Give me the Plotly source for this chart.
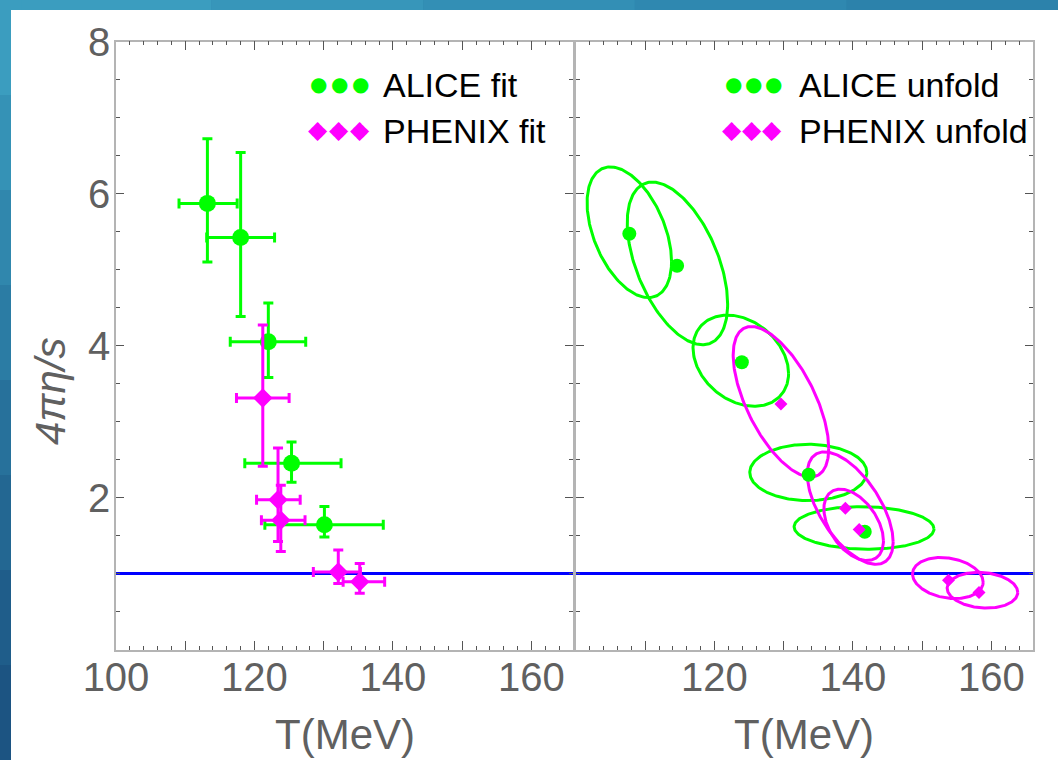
import numpy as np
import plotly.graph_objects as go

# ---------------- data ----------------
# Left panel: fits with asymmetric error bars
alice_fit_T = [113.2, 118.0, 122.0, 125.35, 130.1]
alice_fit_eta = [5.87, 5.42, 4.05, 2.45, 1.64]
alice_fit_T_minus = [4.1, 4.9, 5.5, 6.75, 8.6]
alice_fit_T_plus = [4.3, 4.9, 5.4, 7.15, 8.5]
alice_fit_eta_plus = [0.85, 1.12, 0.51, 0.28, 0.24]
alice_fit_eta_minus = [0.77, 1.04, 0.47, 0.25, 0.16]

phenix_fit_T = [121.2, 123.4, 123.8, 132.1, 135.2]
phenix_fit_eta = [3.31, 1.97, 1.70, 1.02, 0.89]
phenix_fit_T_minus = [3.8, 3.1, 2.8, 3.6, 2.4]
phenix_fit_T_plus = [3.8, 3.2, 3.5, 3.2, 3.6]
phenix_fit_eta_plus = [0.96, 0.68, 0.46, 0.29, 0.24]
phenix_fit_eta_minus = [0.90, 0.55, 0.41, 0.15, 0.15]

# Right panel: unfolded points with correlated-error ellipses
alice_unf_T = [107.7, 114.6, 123.95, 133.6, 141.7]
alice_unf_eta = [5.47, 5.05, 3.78, 2.30, 1.55]
alice_ell_cT = [107.7, 114.65, 123.8, 133.55, 141.6]
alice_ell_ceta = [5.49, 5.08, 3.80, 2.33, 1.60]
alice_ell_sT = [6.1, 7.25, 6.9, 8.45, 10.1]
alice_ell_seta = [0.86, 1.07, 0.60, 0.37, 0.28]
alice_ell_rho = [-0.45, -0.5, -0.28, 0.0, -0.05]

phenix_unf_T = [129.6, 138.9, 140.9, 153.8, 158.2]
phenix_unf_eta = [3.23, 1.86, 1.58, 0.91, 0.75]
phenix_ell_cT = [129.6, 139.6, 140.1, 153.7, 158.7]
phenix_ell_ceta = [3.26, 1.86, 1.64, 0.94, 0.78]
phenix_ell_sT = [6.9, 6.2, 4.3, 5.1, 5.1]
phenix_ell_seta = [0.99, 0.74, 0.47, 0.27, 0.235]
phenix_ell_rho = [-0.62, -0.6, -0.45, -0.2, -0.12]

kss_bound = 1.0

x_tick_vals = [100, 110, 120, 130, 140, 150, 160]
x_tick_text_left = ["100", "", "120", "", "140", "", "160"]
x_tick_text_right = ["", "", "120", "", "140", "", "160"]
y_tick_vals = [2, 4, 6, 8]
y_tick_text = ["2", "4", "6", "8"]

# ---------------- style ----------------
W, H = 1058, 760
GREEN = "#00ff00"
MAGENTA = "#ff00ff"
BLUE = "#0000ff"
GRAY_TXT = "#606060"
FONT = "Liberation Sans"

def fx(p):
    return p / W

def fy(p):
    return 1 - p / H

X1 = [fx(116), fx(573)]
X2 = [fx(576), fx(1033)]
YD = [fy(649.5), fy(41.5)]

fig = go.Figure()

# KSS bound line on both panels
for xa, ya in (("x", "y"), ("x2", "y2")):
    fig.add_trace(go.Scatter(x=[100, 166], y=[kss_bound, kss_bound], mode="lines",
                             line=dict(color=BLUE, width=3), xaxis=xa, yaxis=ya,
                             showlegend=False, hoverinfo="skip"))

# Left panel
fig.add_trace(go.Scatter(
    x=alice_fit_T, y=alice_fit_eta, mode="markers", name="ALICE fit",
    marker=dict(color=GREEN, size=17, symbol="circle"),
    error_x=dict(type="data", symmetric=False, array=alice_fit_T_plus,
                 arrayminus=alice_fit_T_minus, color=GREEN, thickness=3, width=5),
    error_y=dict(type="data", symmetric=False, array=alice_fit_eta_plus,
                 arrayminus=alice_fit_eta_minus, color=GREEN, thickness=3, width=5),
    xaxis="x", yaxis="y", showlegend=False))
fig.add_trace(go.Scatter(
    x=phenix_fit_T, y=phenix_fit_eta, mode="markers", name="PHENIX fit",
    marker=dict(color=MAGENTA, size=15, symbol="diamond"),
    error_x=dict(type="data", symmetric=False, array=phenix_fit_T_plus,
                 arrayminus=phenix_fit_T_minus, color=MAGENTA, thickness=3, width=5),
    error_y=dict(type="data", symmetric=False, array=phenix_fit_eta_plus,
                 arrayminus=phenix_fit_eta_minus, color=MAGENTA, thickness=3, width=5),
    xaxis="x", yaxis="y", showlegend=False))

# Right panel ellipses
t = np.linspace(0, 2 * np.pi, 241)

def ellipse(cx, cy, sx, sy, rho):
    ex = cx + sx * np.cos(t)
    ey = cy + sy * (rho * np.cos(t) + np.sqrt(1 - rho ** 2) * np.sin(t))
    return ex, ey

for i in range(len(alice_ell_cT)):
    ex, ey = ellipse(alice_ell_cT[i], alice_ell_ceta[i], alice_ell_sT[i],
                     alice_ell_seta[i], alice_ell_rho[i])
    fig.add_trace(go.Scatter(x=ex, y=ey, mode="lines", line=dict(color=GREEN, width=3),
                             xaxis="x2", yaxis="y2", showlegend=False, hoverinfo="skip"))
for i in range(len(phenix_ell_cT)):
    ex, ey = ellipse(phenix_ell_cT[i], phenix_ell_ceta[i], phenix_ell_sT[i],
                     phenix_ell_seta[i], phenix_ell_rho[i])
    fig.add_trace(go.Scatter(x=ex, y=ey, mode="lines", line=dict(color=MAGENTA, width=3),
                             xaxis="x2", yaxis="y2", showlegend=False, hoverinfo="skip"))

fig.add_trace(go.Scatter(x=alice_unf_T, y=alice_unf_eta, mode="markers", name="ALICE unfold",
                         marker=dict(color=GREEN, size=14, symbol="circle"),
                         xaxis="x2", yaxis="y2", showlegend=False))
fig.add_trace(go.Scatter(x=phenix_unf_T, y=phenix_unf_eta, mode="markers", name="PHENIX unfold",
                         marker=dict(color=MAGENTA, size=10, symbol="diamond"),
                         xaxis="x2", yaxis="y2", showlegend=False))

# ---------------- axes ----------------
def xaxis_cfg(domain, ticktext, anchor):
    return dict(domain=domain, range=[100, 166], anchor=anchor, automargin=False,
                tickmode="array", tickvals=x_tick_vals, ticktext=ticktext,
                ticks="inside", ticklen=9, tickwidth=1.2, tickcolor="#555555",
                ticklabelstandoff=-8,
                minor=dict(dtick=2, tick0=100, ticks="inside", ticklen=4,
                           tickwidth=1, tickcolor="#555555"),
                showline=True, linecolor="#b4b4b4", linewidth=1.5, mirror="ticks",
                showgrid=False, zeroline=False,
                tickfont=dict(family=FONT, size=40, color=GRAY_TXT))

def yaxis_cfg(anchor, labels):
    return dict(domain=YD, range=[0, 8], anchor=anchor, automargin=False,
                tickmode="array", tickvals=y_tick_vals, ticktext=y_tick_text,
                showticklabels=labels, ticklabelstandoff=-4,
                ticks="inside", ticklen=8, tickwidth=1.2, tickcolor="#555555",
                minor=dict(dtick=0.5, tick0=0, ticks="inside", ticklen=4,
                           tickwidth=1, tickcolor="#555555"),
                showline=True, linecolor="#b4b4b4", linewidth=1.5, mirror="ticks",
                showgrid=False, zeroline=False,
                tickfont=dict(family=FONT, size=40, color=GRAY_TXT))

# ---------------- background (slide) ----------------
shapes = []
top_cols = ["#3b9dbf", "#3796ba", "#338fb5", "#2f88b0", "#2c82ab"]
n = len(top_cols)
for i, c in enumerate(top_cols):
    shapes.append(dict(type="rect", xref="paper", yref="paper", x0=i / n, x1=(i + 1) / n,
                       y0=0.95, y1=1, fillcolor=c, line=dict(width=0), layer="below"))
left_cols = ["#3b9dbf", "#3592b6", "#3087ad", "#2b7ca4", "#27719b", "#236792", "#1f5d8a", "#1c5482"]
n = len(left_cols)
for i, c in enumerate(left_cols):
    shapes.append(dict(type="rect", xref="paper", yref="paper", x0=0, x1=0.02,
                       y0=1 - (i + 1) / n, y1=1 - i / n, fillcolor=c, line=dict(width=0),
                       layer="below"))
shapes.append(dict(type="rect", xref="paper", yref="paper", x0=fx(11), x1=1,
                   y0=0, y1=fy(10), fillcolor="white", line=dict(width=0), layer="below"))

# ---------------- annotations ----------------
ann = []
ann.append(dict(text="<i>4πη/s</i>", x=fx(50), y=fy(392), xref="paper", yref="paper",
                showarrow=False, textangle=-90, xanchor="center", yanchor="middle",
                font=dict(family=FONT, size=42, color=GRAY_TXT)))
for cx in (344.5, 804):
    ann.append(dict(text="T(MeV)", x=fx(cx), y=fy(734), xref="paper", yref="paper",
                    showarrow=False, xanchor="center", yanchor="middle",
                    font=dict(family=FONT, size=42, color=GRAY_TXT)))

legend_rows = [
    (("ALICE fit", "●", GREEN, 318, 21, 381, 84, 20)),
    (("PHENIX fit", "◆", MAGENTA, 318, 21, 381, 130, 25)),
    (("ALICE unfold", "●", GREEN, 733, 20, 797, 84, 20)),
    (("PHENIX unfold", "◆", MAGENTA, 732, 20, 797, 130, 25)),
]
for label, glyph, col, x0, dx, xt, yr, gs in legend_rows:
    for k in range(3):
        ann.append(dict(text=glyph, x=fx(x0 + k * dx), y=fy(yr), xref="paper", yref="paper",
                        showarrow=False, xanchor="center", yanchor="middle",
                        font=dict(family="DejaVu Sans", size=gs, color=col)))
    ann.append(dict(text=label, x=fx(xt), y=fy(yr + 1), xref="paper", yref="paper",
                    showarrow=False, xanchor="left", yanchor="middle",
                    font=dict(family=FONT, size=34, color="black")))

fig.update_layout(
    width=W, height=H, autosize=False,
    margin=dict(l=0, r=0, t=0, b=0, pad=0),
    paper_bgcolor="#2f88b0", plot_bgcolor="rgba(0,0,0,0)",
    xaxis=xaxis_cfg(X1, x_tick_text_left, "y"),
    yaxis=yaxis_cfg("x", True),
    xaxis2=xaxis_cfg(X2, x_tick_text_right, "y2"),
    yaxis2=yaxis_cfg("x2", False),
    shapes=shapes, annotations=ann, showlegend=False,
)

fig.write_html("out.html")
